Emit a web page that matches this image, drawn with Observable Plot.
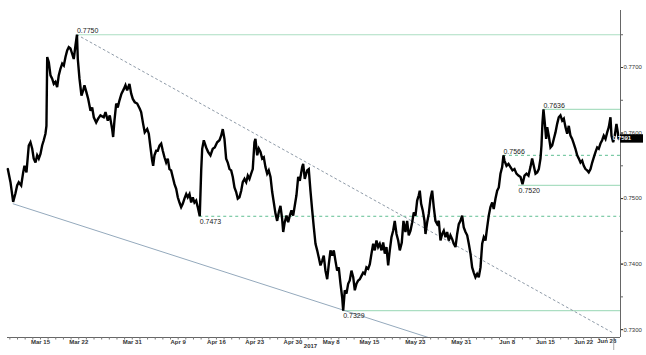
<!DOCTYPE html>
<html><head><meta charset="utf-8">
<script src="https://cdn.jsdelivr.net/npm/d3@7"></script>
<script src="https://cdn.jsdelivr.net/npm/@observablehq/plot@0.6"></script>
<style>body{margin:0;background:#fff}#chart svg{display:block}</style>
</head><body><div id="chart"></div>
<script>
// trading-day offset from Mar 15 2017 (weekends removed)
const tradingDay = [
-4.27,-3.92,-3.57,-3.27,-3.05,-2.84,-2.52,-2.26,-2.09,-1.83,-1.53,-1.31,-1.08,-0.88,-0.65,-0.43,-0.22,0,0.22,0.43,
0.65,0.78,0.88,1.09,1.31,1.53,1.74,1.96,2.18,2.39,2.61,2.84,3.05,3.27,3.49,3.70,3.92,4.14,4.35,4.58,
4.77,4.88,5.10,5.36,5.58,5.75,6.01,6.24,6.54,6.76,6.97,7.28,7.54,7.84,8.27,8.50,8.80,9.06,9.37,9.50,
9.67,9.90,10.10,10.33,10.59,10.89,11.11,11.33,11.63,11.86,12.07,12.33,12.64,12.98,13.16,13.42,13.63,13.95,14.16,14.38,
14.60,14.73,14.90,15.12,15.33,15.56,15.78,15.99,16.21,16.43,16.64,16.86,17.08,17.29,17.52,17.74,17.95,18.17,18.39,18.60,
18.82,19.05,19.25,19.48,19.70,19.91,20.13,20.35,20.56,20.82,21.01,21.14,21.35,21.66,21.92,22.22,22.52,22.78,23.10,23.40,
23.62,23.83,24.05,24.27,24.48,24.71,24.93,25.14,25.36,25.58,25.79,26.01,26.24,26.44,26.67,26.89,27.10,27.32,27.54,27.75,
27.97,28.10,28.33,28.54,28.76,28.98,29.19,29.41,29.63,29.84,30.07,30.29,30.50,30.72,30.94,31.15,31.37,31.59,31.73,31.93,
32.16,32.38,32.59,32.81,33.03,33.24,33.46,33.69,33.90,34.21,34.34,34.55,34.86,35.07,35.29,35.52,35.73,35.95,36.17,36.38,
36.60,36.82,37.03,37.25,37.48,37.69,37.91,38.13,38.34,38.56,38.78,38.99,39.22,39.44,39.57,39.78,40.00,40.22,40.43,40.65,
40.88,41.09,41.31,41.53,41.74,41.96,42.18,42.39,42.61,42.84,43.05,43.27,43.49,43.70,43.92,44.14,44.35,44.58,44.80,45.01,
45.23,45.45,45.66,45.88,46.10,46.31,46.54,46.76,46.97,47.23,47.45,47.71,47.93,48.14,48.37,48.59,48.80,49.02,49.24,49.45,
49.58,49.76,49.97,50.20,50.33,50.55,50.76,50.98,51.20,51.41,51.63,51.86,52.07,52.29,52.51,52.72,52.94,53.16,53.37,53.59,
53.82,54.03,54.25,54.47,54.68,54.90,55.12,55.33,55.56,55.78,55.99,56.21,56.43,56.64,56.86,57.08,57.29,57.52,57.74,57.95,
58.17,58.39,58.60,58.82,59.05,59.25,59.48,59.70,59.91,60.13,60.35,60.52,60.65,60.92,61.18,61.44,61.70,61.96,62.22,62.48,
62.75,63.01,63.27,63.53,63.79,64.05,64.27,64.48,64.71,64.93,65.14,65.36,65.49,65.62,65.75,65.92,66.10,66.24,66.44,66.67,
66.89,67.10,67.32,67.54,67.75,67.97,68.20,68.41,68.63,68.85,69.06,69.28,69.50,69.71,69.93,70.16,70.37,70.59,70.81,71.02,
71.24,71.46,71.67,71.90,72.12,72.33,72.55,72.77,72.98,73.20,73.42,73.63,73.86,74.08,74.29,74.51,74.64,74.86,75.07,75.29,
75.47,75.56
];
const price = [
0.7545,0.7525,0.7495,0.7508,0.7520,0.7525,0.7520,0.7540,0.7550,0.7540,0.7581,0.7586,0.7576,0.7561,0.7555,0.7566,0.7561,0.7568,0.7581,0.7589,
0.7599,0.7611,0.7716,0.7708,0.7688,0.7683,0.7675,0.7678,0.7670,0.7688,0.7698,0.7706,0.7703,0.7716,0.7726,0.7731,0.7729,0.7721,0.7713,0.7734,
0.7750,0.7713,0.7683,0.7657,0.7665,0.7673,0.7662,0.7652,0.7634,0.7639,0.7624,0.7616,0.7622,0.7627,0.7624,0.7632,0.7619,0.7627,0.7606,0.7594,
0.7619,0.7645,0.7639,0.7650,0.7660,0.7667,0.7673,0.7665,0.7675,0.7660,0.7652,0.7647,0.7645,0.7637,0.7632,0.7614,0.7601,0.7606,0.7599,0.7578,
0.7558,0.7550,0.7566,0.7573,0.7573,0.7581,0.7584,0.7573,0.7563,0.7555,0.7561,0.7545,0.7543,0.7533,0.7522,0.7515,0.7502,0.7494,0.7487,0.7492,
0.7500,0.7507,0.7502,0.7507,0.7494,0.7502,0.7494,0.7497,0.7487,0.7473,0.7543,0.7576,0.7589,0.7578,0.7571,0.7566,0.7576,0.7578,0.7586,0.7589,
0.7596,0.7606,0.7591,0.7561,0.7555,0.7545,0.7543,0.7533,0.7517,0.7510,0.7500,0.7502,0.7512,0.7525,0.7530,0.7525,0.7535,0.7530,0.7538,0.7545,
0.7586,0.7591,0.7566,0.7576,0.7571,0.7561,0.7563,0.7548,0.7538,0.7543,0.7533,0.7510,0.7494,0.7477,0.7466,0.7479,0.7489,0.7469,0.7449,0.7464,
0.7474,0.7464,0.7474,0.7482,0.7474,0.7489,0.7505,0.7533,0.7527,0.7548,0.7553,0.7530,0.7543,0.7545,0.7512,0.7482,0.7456,0.7431,0.7421,0.7410,
0.7398,0.7405,0.7413,0.7390,0.7377,0.7400,0.7421,0.7413,0.7421,0.7405,0.7390,0.7395,0.7370,0.7349,0.7329,0.7360,0.7355,0.7370,0.7375,0.7390,
0.7380,0.7360,0.7370,0.7375,0.7377,0.7382,0.7387,0.7385,0.7395,0.7393,0.7400,0.7416,0.7431,0.7421,0.7436,0.7426,0.7431,0.7421,0.7433,0.7416,
0.7426,0.7398,0.7421,0.7441,0.7451,0.7466,0.7446,0.7436,0.7421,0.7433,0.7466,0.7449,0.7466,0.7444,0.7451,0.7464,0.7479,0.7474,0.7497,0.7505,
0.7512,0.7492,0.7482,0.7466,0.7446,0.7464,0.7477,0.7500,0.7512,0.7487,0.7466,0.7461,0.7466,0.7436,0.7446,0.7451,0.7441,0.7449,0.7436,0.7444,
0.7438,0.7431,0.7426,0.7446,0.7461,0.7466,0.7474,0.7456,0.7449,0.7444,0.7431,0.7416,0.7395,0.7387,0.7380,0.7385,0.7380,0.7395,0.7431,0.7441,
0.7436,0.7456,0.7474,0.7487,0.7494,0.7484,0.7500,0.7512,0.7517,0.7538,0.7548,0.7566,0.7558,0.7550,0.7553,0.7548,0.7543,0.7545,0.7538,0.7535,
0.7533,0.7522,0.7535,0.7538,0.7535,0.7548,0.7561,0.7550,0.7538,0.7540,0.7545,0.7561,0.7581,0.7616,0.7636,0.7616,0.7591,0.7609,0.7596,0.7578,
0.7581,0.7591,0.7601,0.7614,0.7624,0.7627,0.7619,0.7622,0.7609,0.7599,0.7611,0.7596,0.7591,0.7584,0.7576,0.7566,0.7561,0.7555,0.7558,0.7550,
0.7545,0.7543,0.7540,0.7545,0.7555,0.7563,0.7571,0.7578,0.7576,0.7584,0.7589,0.7596,0.7591,0.7601,0.7609,0.7624,0.7596,0.7586,0.7596,0.7614,
0.7601,0.7591
];

// annotated levels
const levelValues  = [0.7750, 0.7636, 0.7566, 0.7520, 0.7473, 0.7329];
const levelStart   = [4.77, 65.75, 60.52, 62.5, 20.82, 39.57];
const levelDashed  = [false, false, true, false, true, false];
const levelBelow   = [false, false, false, true, true, true];

// trend lines
const upperTrendT = [4.77, 75.0];
const upperTrendV = [0.7750, 0.7294];
const lowerTrendT = [-3.57, 50.7];
const lowerTrendV = [0.7492, 0.7288];

// axes
const dateTicks  = [0, 5, 12, 18, 23, 28, 33, 38, 43, 49, 55, 61, 66, 71, 75];
const dateLabels = ["Mar 15","Mar 22","Mar 31","Apr 9","Apr 16","Apr 23","Apr 30","May 8","May 15","May 23","May 31","Jun 8","Jun 15","Jun 22","Jun 28"];
const yearLabel = "2017";
const yearPos = 35.3;
const yMajorTicks = [0.7300, 0.7400, 0.7500, 0.7600, 0.7700];
const yMinorTicks = [0.7300,0.7350,0.7400,0.7450,0.7500,0.7550,0.7600,0.7650,0.7700,0.7750];
const lastPrice = 0.7591;
const nowMarker = 75.0;

const xDomain = [-4.31, 75.82];
const yDomain = [0.7288, 0.7787];

const series = tradingDay.map((t, i) => ({t, v: price[i]}));
const levels = levelValues.map((v, i) => ({value: v, start: levelStart[i], dashed: levelDashed[i], below: levelBelow[i]}));
const upper = upperTrendT.map((t, i) => ({t, v: upperTrendV[i]}));
const lower = lowerTrendT.map((t, i) => ({t, v: lowerTrendV[i]}));
const labelByTick = new Map(dateTicks.map((d, i) => [d, dateLabels[i]]));
const dailyTicks = d3.range(-4, 76);
const font = "'Liberation Sans', Arial, sans-serif";

const chart = Plot.plot({
  width: 646, height: 355,
  marginLeft: 7, marginRight: 26, marginTop: 10, marginBottom: 18,
  style: {fontFamily: font, fontSize: "6px", color: "#333", background: "#fff", overflow: "visible"},
  x: {domain: xDomain, axis: null},
  y: {domain: yDomain, axis: null},
  marks: [
    Plot.ruleY(levels.filter(d => !d.dashed), {y: "value", x1: "start", x2: xDomain[1], stroke: "#abdec2", strokeWidth: 1.2}),
    Plot.ruleY(levels.filter(d => d.dashed), {y: "value", x1: "start", x2: xDomain[1], stroke: "#5fbf92", strokeWidth: 1, strokeDasharray: "3,3"}),
    Plot.line(upper, {x: "t", y: "v", stroke: "#8f9ba8", strokeWidth: 1, strokeDasharray: "2,3"}),
    Plot.line(lower, {x: "t", y: "v", stroke: "#94a9bc", strokeWidth: 1, clip: true}),
    Plot.line(series, {x: "t", y: "v", stroke: "#000", strokeWidth: 2.4, strokeLinejoin: "miter", strokeMiterlimit: 3}),
    Plot.text(levels.filter(d => !d.below), {x: "start", y: "value", text: d => d.value.toFixed(4), textAnchor: "start", dy: -4, fontSize: 7, fill: "#222"}),
    Plot.text(levels.filter(d => d.below), {x: "start", y: "value", text: d => d.value.toFixed(4), textAnchor: "start", dy: 5, fontSize: 7, fill: "#222"}),
    Plot.ruleY([yDomain[0]], {stroke: "#666", strokeWidth: 1}),
    Plot.ruleX([xDomain[1]], {stroke: "#666", strokeWidth: 1}),
    Plot.axisX({ticks: dailyTicks, tickSize: 2.5, text: null, stroke: "#777"}),
    Plot.axisX({ticks: dateTicks.slice(0, -1), tickSize: 0, tickPadding: 2, tickFormat: d => labelByTick.get(d), fontWeight: "bold", fontSize: 6, fill: "#333"}),
    Plot.text([dateTicks[dateTicks.length - 1]], {x: d => d, frameAnchor: "bottom", text: d => labelByTick.get(d), textAnchor: "end", dx: 2, dy: 5, fontWeight: "bold", fontSize: 6, fill: "#333"}),
    Plot.text([yearLabel], {x: yearPos, frameAnchor: "bottom", text: d => d, dy: 10.5, fontWeight: "bold", fontSize: 6, fill: "#333"}),
    Plot.axisY({anchor: "right", ticks: yMinorTicks, tickSize: 2, text: null, stroke: "#666"}),
    Plot.axisY({anchor: "right", ticks: yMajorTicks, tickSize: 2, tickPadding: 1, tickFormat: d3.format(".4f"), fontSize: 6, fill: "#333"})
  ]
});

document.getElementById("chart").appendChild(chart);

// last-price tag and current-time marker, positioned through Plot's scales
const xs = chart.scale("x"), ys = chart.scale("y");
const svg = d3.select(chart);
const yLast = ys.apply(lastPrice);
const xEdge = xs.apply(xDomain[1]);
svg.append("rect").attr("x", xEdge).attr("y", yLast - 4.2).attr("width", 23).attr("height", 8.4).attr("fill", "#000");
svg.append("text").attr("x", xEdge + 2).attr("y", yLast).attr("dy", "0.34em")
  .attr("fill", "#fff").attr("font-family", font).attr("font-size", 6).attr("font-weight", "bold").text(lastPrice.toFixed(4));
const yBottom = ys.apply(yDomain[0]);
svg.append("line").attr("x1", xs.apply(nowMarker)).attr("x2", xs.apply(nowMarker))
  .attr("y1", yBottom + 1).attr("y2", yBottom + 13).attr("stroke", "#aaa").attr("stroke-width", 1);
</script>
</body></html>
